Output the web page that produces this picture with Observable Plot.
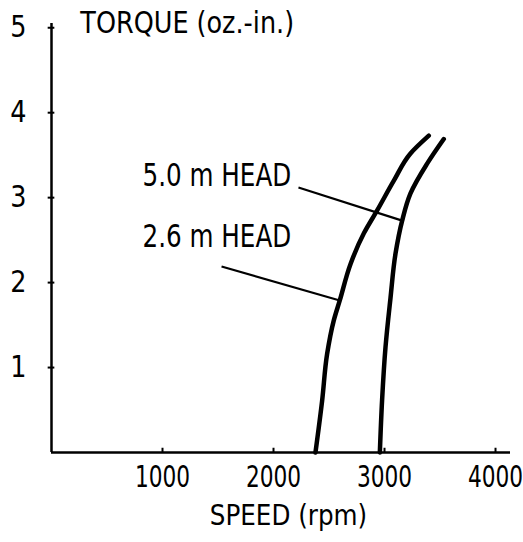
<!DOCTYPE html>
<html>
<head>
<meta charset="utf-8">
<script src="https://cdn.jsdelivr.net/npm/d3@7"></script>
<script src="https://cdn.jsdelivr.net/npm/@observablehq/plot@0.6"></script>
<style>
  html, body { margin: 0; padding: 0; background: #fff; }
  #chart { width: 523px; height: 542px; }
</style>
</head>
<body>
<div id="chart"></div>
<script>
// Data
const xTicks = [1000, 2000, 3000, 4000];
const yTicks = [1, 2, 3, 4, 5];

const speed26 = [2378, 2438, 2483, 2542, 2597, 2694, 2814, 2934, 3084, 3234, 3399];
const torque26 = [0, 0.61, 1.16, 1.55, 1.79, 2.22, 2.58, 2.85, 3.2, 3.52, 3.73];

const speed50 = [2958, 2978, 3009, 3054, 3099, 3159, 3234, 3384, 3534];
const torque50 = [0, 0.61, 1.24, 1.82, 2.34, 2.73, 3.05, 3.4, 3.69];

const seriesLabels = ["5.0 m HEAD", "2.6 m HEAD"];
const labelSpeed = [820, 820];
const labelTorque = [3.26, 2.54];
// leader lines: from label end to a point on each curve
const leaderFromSpeed = [2225, 1532];
const leaderFromTorque = [3.12, 2.19];
const leaderToSpeed = [3159, 2597];
const leaderToTorque = [2.73, 1.79];

const yTitle = "TORQUE (oz.-in.)";
const xTitle = "SPEED (rpm)";

const font = "'DejaVu Sans', sans-serif";

const curve26 = speed26.map((s, i) => ({speed: s, torque: torque26[i]}));
const curve50 = speed50.map((s, i) => ({speed: s, torque: torque50[i]}));
const leaders = seriesLabels.map((l, i) => ({
  x1: leaderFromSpeed[i], y1: leaderFromTorque[i],
  x2: leaderToSpeed[i], y2: leaderToTorque[i]
}));
const labels = seriesLabels.map((l, i) => ({label: l, x: labelSpeed[i], y: labelTorque[i]}));

const chart = Plot.plot({
  width: 523,
  height: 542,
  marginLeft: 51,
  marginRight: 13,
  marginTop: 23,
  marginBottom: 90,
  style: {background: "#fff", color: "#000", fontFamily: font},
  x: {domain: [0, 4135]},
  y: {domain: [0, 5.05]},
  marks: [
    Plot.axisX({ticks: xTicks, tickFormat: d => String(d), tickSize: 0, tickPadding: 12, fontSize: 31, label: null, fontFamily: font}),
    Plot.axisY({ticks: yTicks, tickFormat: d => String(d), tickSize: 0, tickPadding: 25, fontSize: 30, label: null, fontFamily: font}),
    Plot.ruleY([0], {stroke: "#000", strokeWidth: 2.5}),
    Plot.ruleX([0], {y1: 0, y2: 5.05, stroke: "#000", strokeWidth: 2.5}),
    Plot.ruleY(yTicks, {x1: -30, x2: 30, stroke: "#000", strokeWidth: 2}),
    Plot.ruleX(xTicks, {y1: 0, y2: 0.05, stroke: "#000", strokeWidth: 2}),
    Plot.line(curve26, {x: "speed", y: "torque", curve: "monotone-y", stroke: "#000", strokeWidth: 4.5}),
    Plot.line(curve50, {x: "speed", y: "torque", curve: "monotone-y", stroke: "#000", strokeWidth: 4.5}),
    Plot.link(leaders, {x1: "x1", y1: "y1", x2: "x2", y2: "y2", stroke: "#000", strokeWidth: 2.2}),
    Plot.text(labels, {x: "x", y: "y", text: "label", textAnchor: "start", fontSize: 32, fill: "#000", fontFamily: font}),
    Plot.text([yTitle], {x: 261, y: 5.05, textAnchor: "start", fontSize: 30, fill: "#000", fontFamily: font}),
    Plot.text([xTitle], {x: 2135, frameAnchor: "bottom", dy: 72, fontSize: 29, fill: "#000", fontFamily: font})
  ]
});
document.getElementById("chart").appendChild(chart);

// Condense text horizontally (the reference uses a narrow lettering)
function squeeze(elements, k) {
  elements.forEach(el => {
    const b = el.getBBox();
    const anchor = getComputedStyle(el).textAnchor;
    const ox = anchor === "end" ? b.x + b.width : anchor === "middle" ? b.x + b.width / 2 : b.x;
    const t = el.getAttribute("transform") || "";
    el.setAttribute("transform", `${t} translate(${ox},0) scale(${k},1) translate(${-ox},0)`);
  });
}
squeeze(chart.querySelectorAll("g[aria-label='x-axis tick label'] text"), 0.7);
squeeze(chart.querySelectorAll("g[aria-label='y-axis tick label'] text"), 0.85);
const textGroups = chart.querySelectorAll("g[aria-label='text']");
squeeze(textGroups[0].querySelectorAll("text"), 0.77);
squeeze(textGroups[1].querySelectorAll("text"), 0.85);
squeeze(textGroups[2].querySelectorAll("text"), 0.85);
</script>
</body>
</html>
